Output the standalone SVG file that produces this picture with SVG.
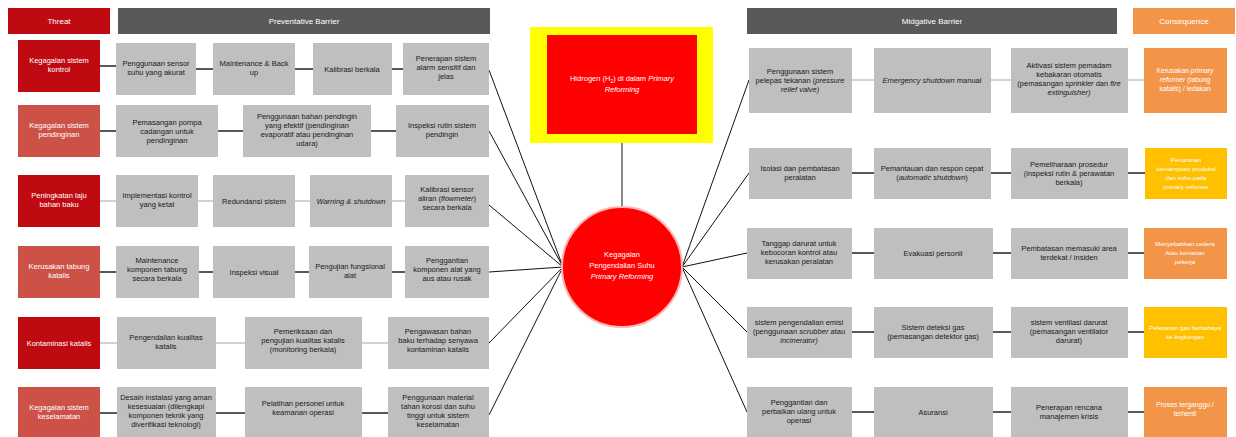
<svg xmlns="http://www.w3.org/2000/svg" width="1236" height="437" viewBox="0 0 1236 437">
<style>
text{font-family:"Liberation Sans",Arial,sans-serif;font-size:7.5px;text-anchor:middle}
.hd{fill:#595959}
.hdt{fill:#fff;font-size:8px}
.th1{fill:#C00A12}
.th2{fill:#CC5248}
.tt{fill:#fff}
.bx{fill:#BFBFBF}
.bt{fill:#1a1a1a}
.co{fill:#F39549}
.cy{fill:#FFC000}
.ct{fill:#fff;font-size:6.8px}
.cs{fill:#fff;font-size:6.2px}
.ln{stroke:#595959;stroke-width:2;fill:none}
.ll{stroke:#A6A6A6;stroke-width:1;fill:none}
.cn{stroke:#111;stroke-width:1;fill:none}
</style>
<rect width="1236" height="437" fill="#fff"/>
<g id="connectors">
<path class="ln" d="M100 66H116M196 69H213M295 69H313M392 69H403"/>
<path class="ln" d="M100 131H116M218 131H243M371 131H396"/>
<path class="ll" d="M100 201H116M198 201H213M295 201H310M392 201H405"/>
<path class="ln" d="M100 272H116M198 272H213M295 272H309M392 272H405"/>
<path class="ll" d="M100 343H117M216 343H245M362 343H388"/>
<path class="ln" d="M100 413H117M216 413H245M362 413H388"/>
<path class="ll" d="M852 80H874M991 80H1011M1128 80H1144"/>
<path class="ln" d="M852 173H874M991 173H1011M1128 173H1145"/>
<path class="ln" d="M852 253H874M993 253H1011M1128 253H1144"/>
<path class="ln" d="M852 332H874M993 332H1011M1128 332H1144"/>
<path class="ln" d="M852 412H874M993 412H1011M1128 412H1144"/>
<path class="cn" d="M489 70L563 267M489 131L563 267M489 205L563 267M489 272L563 267M489 343L563 267M489 415L563 267"/>
<path class="cn" d="M682 267L749 80M682 267L749 173M682 267L747 253M682 267L747 332M682 267L747 412"/>
<path class="cn" d="M622 143V207"/>
</g>
<g id="headers">
<rect class="th1" x="8" y="8" width="102" height="26"/><text class="hdt" x="59" y="24">Threat</text>
<rect class="hd" x="118" y="8" width="372" height="26"/><text class="hdt" x="304" y="24">Preventative Barrier</text>
<rect class="hd" x="747" y="8" width="370" height="26"/><text class="hdt" x="932" y="24">Midgative Barrier</text>
<rect class="co" x="1133" y="8" width="102" height="26"/><text class="hdt" x="1184" y="24">Consequence</text>
</g>
<g id="hazard">
<rect x="530" y="27" width="183" height="116" fill="#FFFF00"/>
<rect x="547" y="35" width="150" height="99" fill="#FF0000"/>
<text class="tt" x="622" y="81" font-size="8">Hidrogen (H<tspan font-size="5" dy="2">2</tspan><tspan dy="-2">) di dalam </tspan><tspan font-style="italic">Primary</tspan></text>
<text class="tt" x="622" y="92" font-size="8" font-style="italic">Reforming</text>
</g>
<g id="top-event">
<circle cx="622" cy="267" r="60" fill="#FF0000" stroke="#FFB3B3" stroke-width="2"/>
<text class="tt" x="622" y="257">Kegagalan</text>
<text class="tt" x="622" y="268">Pengendalian Suhu</text>
<text class="tt" x="622" y="279" font-style="italic">Primary Reforming</text>
</g>
<g id="threat1"><rect class="th1" x="18" y="40" width="82" height="52"/><text class="tt" x="59" y="63">Kegagalan sistem</text><text class="tt" x="59" y="72">kontrol</text></g>
<g id="threat2"><rect class="th2" x="18" y="105" width="82" height="52"/><text class="tt" x="59" y="128">Kegagalan sistem</text><text class="tt" x="59" y="137">pendinginan</text></g>
<g id="threat3"><rect class="th1" x="18" y="175" width="82" height="52"/><text class="tt" x="59" y="198">Peningkatan laju</text><text class="tt" x="59" y="207">bahan baku</text></g>
<g id="threat4"><rect class="th2" x="18" y="246" width="82" height="52"/><text class="tt" x="59" y="269">Kerusakan tabung</text><text class="tt" x="59" y="278">katalis</text></g>
<g id="threat5"><rect class="th1" x="18" y="317" width="82" height="52"/><text class="tt" x="59" y="346">Kontaminasi katalis</text></g>
<g id="threat6"><rect class="th2" x="18" y="387" width="82" height="52"/><text class="tt" x="59" y="410">Kegagalan sistem</text><text class="tt" x="59" y="419">keselamatan</text></g>
<g id="p1a"><rect class="bx" x="116" y="43" width="80" height="52"/><text class="bt" x="156" y="66">Penggunaan sensor</text><text class="bt" x="156" y="75">suhu yang akurat</text></g>
<g id="p1b"><rect class="bx" x="213" y="43" width="82" height="52"/><text class="bt" x="254" y="66">Maintenance &amp; Back</text><text class="bt" x="254" y="75">up</text></g>
<g id="p1c"><rect class="bx" x="313" y="43" width="79" height="52"/><text class="bt" x="352" y="72">Kalibrasi berkala</text></g>
<g id="p1d"><rect class="bx" x="403" y="43" width="86" height="52"/><text class="bt" x="446" y="61">Penerapan sistem</text><text class="bt" x="446" y="70">alarm sensitif dan</text><text class="bt" x="446" y="79">jelas</text></g>
<g id="p2a"><rect class="bx" x="116" y="105" width="102" height="52"/><text class="bt" x="167" y="125">Pemasangan pompa</text><text class="bt" x="167" y="134">cadangan untuk</text><text class="bt" x="167" y="143">pendinginan</text></g>
<g id="p2b"><rect class="bx" x="243" y="105" width="128" height="52"/><text class="bt" x="307" y="119">Penggunaan bahan pendingin</text><text class="bt" x="307" y="128">yang efektif (pendinginan</text><text class="bt" x="307" y="137">evaporatif atau pendinginan</text><text class="bt" x="307" y="146">udara)</text></g>
<g id="p2c"><rect class="bx" x="396" y="105" width="93" height="52"/><text class="bt" x="442" y="128">Inspeksi rutin sistem</text><text class="bt" x="442" y="137">pendingin</text></g>
<g id="p3a"><rect class="bx" x="116" y="175" width="82" height="52"/><text class="bt" x="157" y="198">Implementasi kontrol</text><text class="bt" x="157" y="207">yang ketat</text></g>
<g id="p3b"><rect class="bx" x="213" y="175" width="82" height="52"/><text class="bt" x="254" y="204">Redundansi sistem</text></g>
<g id="p3c"><rect class="bx" x="310" y="175" width="82" height="52"/><text class="bt" x="351" y="204" font-style="italic">Warning &amp; shutdown</text></g>
<g id="p3d"><rect class="bx" x="405" y="175" width="84" height="52"/><text class="bt" x="447" y="192">Kalibrasi sensor</text><text class="bt" x="447" y="201">aliran (<tspan font-style="italic">flowmeter</tspan>)</text><text class="bt" x="447" y="210">secara berkala</text></g>
<g id="p4a"><rect class="bx" x="116" y="246" width="83" height="52"/><text class="bt" x="157" y="263">Maintenance</text><text class="bt" x="157" y="272">komponen tabung</text><text class="bt" x="157" y="281">secara berkala</text></g>
<g id="p4b"><rect class="bx" x="213" y="246" width="82" height="52"/><text class="bt" x="254" y="275">Inspeksi visual</text></g>
<g id="p4c"><rect class="bx" x="309" y="246" width="83" height="52"/><text class="bt" x="350" y="269">Pengujian fungsional</text><text class="bt" x="350" y="278">alat</text></g>
<g id="p4d"><rect class="bx" x="405" y="246" width="84" height="52"/><text class="bt" x="447" y="263">Penggantian</text><text class="bt" x="447" y="272">komponen alat yang</text><text class="bt" x="447" y="281">aus atau rusak</text></g>
<g id="p5a"><rect class="bx" x="117" y="317" width="99" height="52"/><text class="bt" x="166" y="340">Pengendalian kualitas</text><text class="bt" x="166" y="349">katalis</text></g>
<g id="p5b"><rect class="bx" x="245" y="317" width="117" height="52"/><text class="bt" x="303" y="334">Pemeriksaan dan</text><text class="bt" x="303" y="343">pengujian kualitas katalis</text><text class="bt" x="303" y="352">(monitoring berkala)</text></g>
<g id="p5c"><rect class="bx" x="388" y="317" width="101" height="52"/><text class="bt" x="438" y="334">Pengawasan bahan</text><text class="bt" x="438" y="343">baku terhadap senyawa</text><text class="bt" x="438" y="352">kontaminan katalis</text></g>
<g id="p6a"><rect class="bx" x="117" y="387" width="99" height="52"/><text class="bt" x="166" y="400" font-size="7">Desain instalasi yang aman</text><text class="bt" x="166" y="409" font-size="7">kesesuaian (dilengkapi</text><text class="bt" x="166" y="418" font-size="7">komponen teknik yang</text><text class="bt" x="166" y="427" font-size="7">diverifikasi teknologi)</text></g>
<g id="p6b"><rect class="bx" x="245" y="387" width="117" height="52"/><text class="bt" x="303" y="406">Pelatihan personel untuk</text><text class="bt" x="303" y="415">keamanan operasi</text></g>
<g id="p6c"><rect class="bx" x="388" y="387" width="101" height="52"/><text class="bt" x="438" y="400">Penggunaan material</text><text class="bt" x="438" y="409">tahan korosi dan suhu</text><text class="bt" x="438" y="418">tinggi untuk sistem</text><text class="bt" x="438" y="427">keselamatan</text></g>
<g id="m1a"><rect class="bx" x="749" y="48" width="103" height="65"/><text class="bt" x="800" y="74">Penggunaan sistem</text><text class="bt" x="800" y="83">pelepas tekanan (<tspan font-style="italic">pressure</tspan></text><text class="bt" x="800" y="92" font-style="italic">relief valve)</text></g>
<g id="m1b"><rect class="bx" x="874" y="48" width="117" height="65"/><text class="bt" x="932" y="83"><tspan font-style="italic">Emergency shutdown</tspan> manual</text></g>
<g id="m1c"><rect class="bx" x="1011" y="48" width="117" height="65"/><text class="bt" x="1069" y="68">Aktivasi sistem pemadam</text><text class="bt" x="1069" y="77">kebakaran otomatis</text><text class="bt" x="1069" y="86">(pemasangan <tspan font-style="italic">sprinkler</tspan> dan <tspan font-style="italic">fire</tspan></text><text class="bt" x="1069" y="95" font-style="italic">extinguisher)</text></g>
<g id="c1"><rect class="co" x="1144" y="48" width="83" height="65"/><text class="ct" x="1185" y="73">Kerusakan <tspan font-style="italic">primary</tspan></text><text class="ct" x="1185" y="82"><tspan font-style="italic">reformer</tspan> (tabung</text><text class="ct" x="1185" y="91">katalis) / ledakan</text></g>
<g id="m2a"><rect class="bx" x="749" y="148" width="103" height="51"/><text class="bt" x="800" y="171">Isolasi dan pembatasan</text><text class="bt" x="800" y="180">peralatan</text></g>
<g id="m2b"><rect class="bx" x="874" y="148" width="117" height="51"/><text class="bt" x="932" y="171">Pemantauan dan respon cepat</text><text class="bt" x="932" y="180">(<tspan font-style="italic">automatic shutdown</tspan>)</text></g>
<g id="m2c"><rect class="bx" x="1011" y="148" width="117" height="51"/><text class="bt" x="1069" y="167">Pemeliharaan prosedur</text><text class="bt" x="1069" y="176">(inspeksi rutin &amp; perawatan</text><text class="bt" x="1069" y="185">berkala)</text></g>
<g id="c2"><rect class="cy" x="1145" y="148" width="82" height="51"/><text class="cs" x="1186" y="162">Penurunan</text><text class="cs" x="1186" y="171">kemampuan produksi</text><text class="cs" x="1186" y="180">dan suhu pada</text><text class="cs" x="1186" y="189" font-style="italic">primary reformer</text></g>
<g id="m3a"><rect class="bx" x="747" y="228" width="105" height="51"/><text class="bt" x="799" y="246">Tanggap darurat untuk</text><text class="bt" x="799" y="255">kebocoran kontrol atau</text><text class="bt" x="799" y="264">kerusakan peralatan</text></g>
<g id="m3b"><rect class="bx" x="874" y="228" width="119" height="51"/><text class="bt" x="933" y="256">Evakuasi personil</text></g>
<g id="m3c"><rect class="bx" x="1011" y="228" width="117" height="51"/><text class="bt" x="1069" y="251">Pembatasan memasuki area</text><text class="bt" x="1069" y="260">terdekat / insiden</text></g>
<g id="c3"><rect class="co" x="1144" y="228" width="83" height="51"/><text class="cs" x="1185" y="246">Menyebabkan cedera</text><text class="cs" x="1185" y="255">Atau kematian</text><text class="cs" x="1185" y="264">pekerja</text></g>
<g id="m4a"><rect class="bx" x="747" y="307" width="105" height="51"/><text class="bt" x="799" y="325">sistem pengendalian emisi</text><text class="bt" x="799" y="334">(penggunaan <tspan font-style="italic">scrubber</tspan> atau</text><text class="bt" x="799" y="343" font-style="italic">incinerator)</text></g>
<g id="m4b"><rect class="bx" x="874" y="307" width="119" height="51"/><text class="bt" x="933" y="330">Sistem deteksi gas</text><text class="bt" x="933" y="339">(pemasangan detektor gas)</text></g>
<g id="m4c"><rect class="bx" x="1011" y="307" width="117" height="51"/><text class="bt" x="1069" y="325">sistem ventilasi darurat</text><text class="bt" x="1069" y="334">(pemasangan ventilator</text><text class="bt" x="1069" y="343">darurat)</text></g>
<g id="c4"><rect class="cy" x="1144" y="307" width="83" height="51"/><text class="cs" x="1185" y="330">Pelepasan gas berbahaya</text><text class="cs" x="1185" y="339">ke lingkungan</text></g>
<g id="m5a"><rect class="bx" x="747" y="387" width="105" height="52"/><text class="bt" x="799" y="405">Penggantian dan</text><text class="bt" x="799" y="414">perbaikan ulang untuk</text><text class="bt" x="799" y="423">operasi</text></g>
<g id="m5b"><rect class="bx" x="874" y="387" width="119" height="52"/><text class="bt" x="933" y="415">Asuransi</text></g>
<g id="m5c"><rect class="bx" x="1011" y="387" width="117" height="52"/><text class="bt" x="1069" y="410">Penerapan rencana</text><text class="bt" x="1069" y="419">manajemen krisis</text></g>
<g id="c5"><rect class="co" x="1144" y="387" width="83" height="52"/><text class="ct" x="1185" y="407">Proses terganggu /</text><text class="ct" x="1185" y="416">terhenti</text></g>
</svg>
